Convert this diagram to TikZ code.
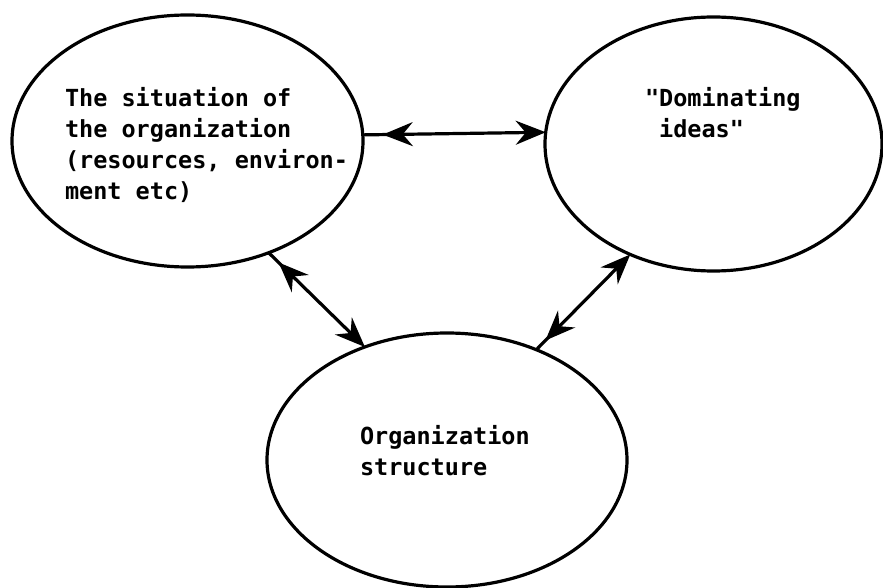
\documentclass[tikz,border=0pt]{standalone}
\usepackage{fontspec}
\usetikzlibrary{arrows.meta,shapes.geometric,decorations.markings}
\newfontfamily\typefont{DejaVu Sans Mono}

\begin{document}
\begin{tikzpicture}[x=1pt,y=-1pt,
  bubble/.style={draw, ellipse, line width=3.2pt, inner sep=0pt, outer sep=0pt},
  caption/.style={font=\typefont\bfseries\fontsize{23.5}{31}\selectfont, align=left,
    inner sep=0pt, outer sep=0pt, anchor=base west},
  link/.style={line width=3.2pt,
    -{Stealth[length=30pt,width=24pt,inset=10pt]},
    postaction={decorate}},
  backtip/.style={decoration={markings,
    mark=at position #1 with {\arrowreversed{Stealth[length=30pt,width=24pt,inset=10pt]}}}}
]
\useasboundingbox (0,0) rectangle (883,588);

% the three ellipses
\node[bubble, minimum width=351pt, minimum height=252pt] (situation) at (187.5,141) {};
\node[bubble, minimum width=337pt, minimum height=254pt] (ideas) at (713.5,144) {};
\node[bubble, minimum width=360pt, minimum height=254pt] (structure) at (447,460) {};

% their texts (placed by the baseline of the last line)
\node[caption] (situationtext) at (65,200)
  {The situation of\\the organization\\(resources, environ-\\ment etc)};
\node[caption] (ideastext) at (645,138) {"Dominating\\\hphantom{"}ideas"};
\node[caption] (structuretext) at (360,475) {Organization\\structure};

% two-way connectors
\draw[link, backtip=20pt] (situation.2.6) -- (ideas.176.2);
\draw[link, backtip=14pt] (situation.-54.6) -- (structure.126);
\draw[link, backtip=13pt] (structure.51.8) -- (ideas.-127.4);
\end{tikzpicture}
\end{document}
